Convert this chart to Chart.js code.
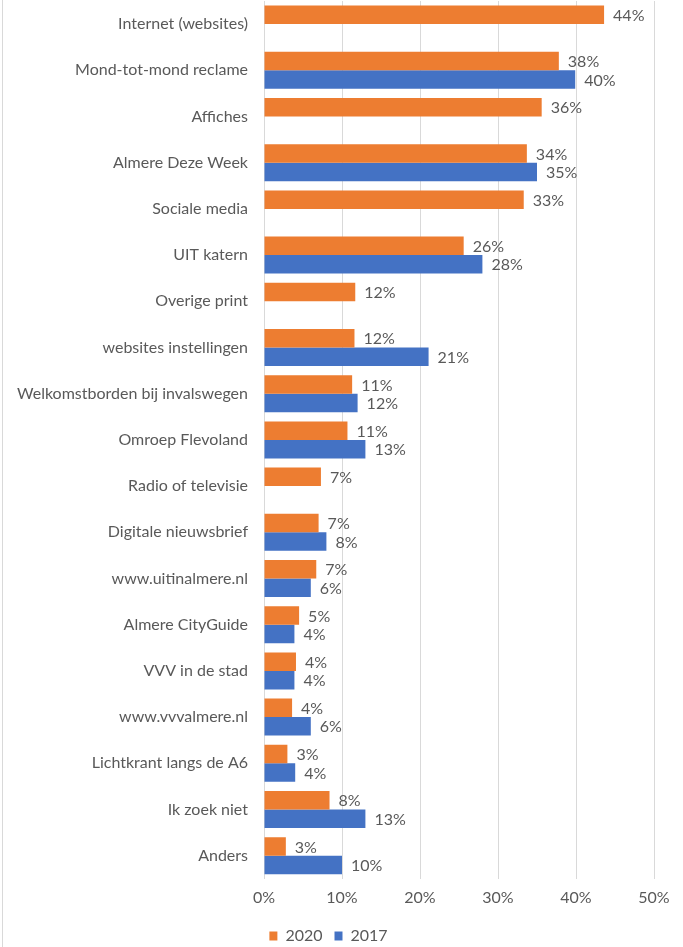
<!DOCTYPE html>
<html>
<head>
<meta charset="utf-8">
<script src="https://cdn.jsdelivr.net/npm/chart.js@4.4.1/dist/chart.umd.min.js"></script>
<style>
  body { margin: 0; background: #fff; }
  #wrap { width: 680px; height: 947px; margin-left: 2px; border-left: 1px solid #d9d9d9; }
  canvas { display: block; }
</style>
</head>
<body>
<div id="wrap"><canvas id="chart" width="680" height="947"></canvas></div>
<script>
const categories = [
  "Internet (websites)", "Mond-tot-mond reclame", "Affiches", "Almere Deze Week",
  "Sociale media", "UIT katern", "Overige print", "websites instellingen",
  "Welkomstborden bij invalswegen", "Omroep Flevoland", "Radio of televisie",
  "Digitale nieuwsbrief", "www.uitinalmere.nl", "Almere CityGuide", "VVV in de stad",
  "www.vvvalmere.nl", "Lichtkrant langs de A6", "Ik zoek niet", "Anders"
];
const values2020 = [43.6, 37.8, 35.6, 33.7, 33.3, 25.6, 11.7, 11.6, 11.3, 10.7, 7.3,
  7.0, 6.7, 4.5, 4.1, 3.6, 3.0, 8.4, 2.8];
const values2017 = [null, 39.9, null, 35.0, null, 28.0, null, 21.1, 12.0, 13.0, null,
  8.0, 6.0, 3.9, 3.9, 6.0, 4.0, 13.0, 10.0];
const xTicks = [0, 10, 20, 30, 40, 50];

const textColor = "#595959";
const fontFamily = "Lato, 'Liberation Sans', sans-serif";

// value labels at the end of each bar
const barLabels = {
  id: "barLabels",
  afterDatasetsDraw(chart) {
    const ctx = chart.ctx;
    ctx.save();
    ctx.font = "16px " + fontFamily;
    ctx.fillStyle = textColor;
    ctx.textBaseline = "middle";
    ctx.textAlign = "left";
    chart.data.datasets.forEach((ds, i) => {
      chart.getDatasetMeta(i).data.forEach((bar, j) => {
        const v = ds.data[j];
        if (v === null) return;
        ctx.fillText(Math.round(v) + "%", bar.x + 9, bar.y + 1);
      });
    });
    ctx.restore();
  }
};

new Chart(document.getElementById("chart"), {
  type: "bar",
  data: {
    labels: categories,
    datasets: [
      { label: "2020", data: values2020, backgroundColor: "#ED7D31" },
      { label: "2017", data: values2017, backgroundColor: "#4472C4" }
    ]
  },
  options: {
    indexAxis: "y",
    responsive: false,
    animation: false,
    categoryPercentage: 0.8,
    barPercentage: 1,
    layout: { padding: { top: 1, right: 29, bottom: -7, left: 0 } },
    scales: {
      x: {
        min: 0,
        max: 50,
        afterBuildTicks: (s) => { s.ticks = xTicks.map(v => ({ value: v })); },
        grid: { color: "#d9d9d9", lineWidth: 1, drawTicks: false },
        border: { display: false },
        ticks: {
          color: textColor,
          font: { family: fontFamily, size: 16 },
          padding: 9,
          callback: (v) => v + "%"
        }
      },
      y: {
        grid: { display: false, drawTicks: false },
        border: { color: "#d9d9d9", width: 1 },
        afterFit: (s) => { s.width = 261; s.paddingTop = 0; s.paddingBottom = 0; },
        ticks: {
          color: textColor,
          font: { family: fontFamily, size: 16 },
          padding: 16,
          autoSkip: false
        }
      }
    },
    plugins: {
      legend: {
        position: "bottom",
        labels: {
          color: textColor,
          font: { family: fontFamily, size: 16 },
          boxWidth: 8,
          boxHeight: 9,
          padding: 12
        }
      },
      tooltip: { enabled: false }
    }
  },
  plugins: [barLabels]
});
</script>
</body>
</html>
